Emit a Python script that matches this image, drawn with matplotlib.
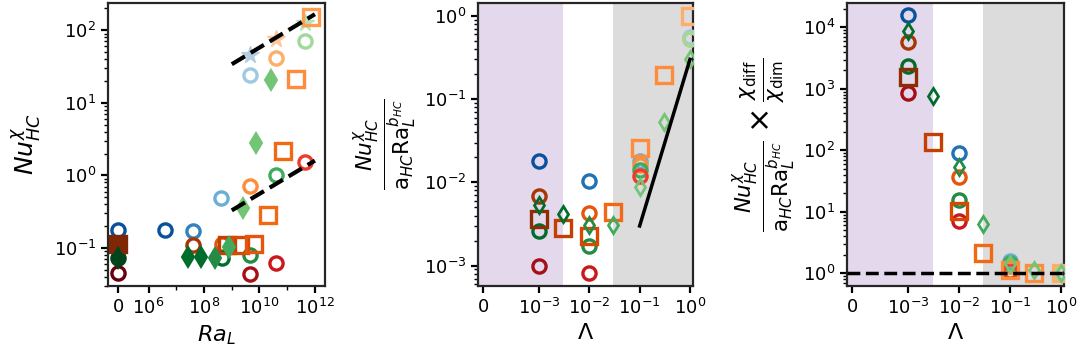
import matplotlib
matplotlib.use("Agg")
import matplotlib.pyplot as plt
import matplotlib.ticker as mticker
import numpy as np

# ---- panel (a): Nu vs Ra ----
ra_blue = [0, 4e6, 4e7, 4e8, 4.4e9]
nu_blue = [0.175, 0.175, 0.17, 0.49, 24.5]
ra_orange = [0, 4e7, 4.3e8, 4.4e9, 4.1e10]
nu_orange = [0.113, 0.111, 0.115, 0.71, 41.6]
ra_green = [0, 4.3e8, 4.4e9, 4.1e10, 4.3e11]
nu_green = [0.073, 0.072, 0.08, 1.0, 70]
ra_red = [0, 4.4e9, 4.1e10, 4.3e11]
nu_red = [0.046, 0.044, 0.063, 1.52]
ra_diam = [0, 2.6e7, 8e7, 2.4e8, 8.1e8, 2.6e9, 7.6e9, 2.7e10]
nu_diam = [0.073, 0.075, 0.075, 0.073, 0.103, 0.36, 2.78, 20.8]
ra_sq = [0, 6.5e8, 2e9, 6.6e9, 2.1e10, 7e10, 2.1e11, 7.4e11]
nu_sq = [0.113, 0.11, 0.11, 0.115, 0.288, 2.16, 21.3, 154]
ra_star = [4.4e9, 4.1e10, 4.3e11]
nu_star = [46, 76, 124]
fit_ra = [1e9, 1e12]
fit_hi = [34, 166]
fit_lo = [0.33, 1.6]

# ---- panels (b), (c): vs Lambda ----
lam_c = [1e-3, 1e-2, 1e-1, 1]
lam_ds = [1e-3, 3e-3, 1e-2, 3e-2, 1e-1, 3e-1, 1]
b_blue = [0.018, 0.0103, 0.018, 0.55]
b_orange = [0.0069, 0.0043, 0.0163, 0.53]
b_green = [0.0026, 0.0017, 0.0141, 0.53]
b_red = [0.001, 0.00082, 0.0118]
b_diam = [0.0053, 0.0042, 0.0031, 0.0031, 0.0088, 0.053, 0.30]
b_sq = [0.0036, 0.0028, 0.0023, 0.0044, 0.026, 0.197, 1.0]
fit_lam = [0.1, 1.0]
fit_b = [0.003, 0.3]

c_blue = [15800, 89, 1.6, 1.0]
c_orange = [5840, 37, 1.3, 1.0]
c_green = [2380, 15.5, 1.45, 1.0]
c_red = [865, 7.1, 1.1]
c_diam = [8800, 773, 53, 6.3, 1.4, 1.13, 1.0]
c_sq = [1540, 135, 10.3, 2.1, 1.15, 1.0, 1.0]

# colours, dark -> light
blues = ['#08519c', '#08519c', '#3182bd', '#6baed6', '#9ecae1']
oranges = ['#7f2704', '#a63603', '#e6550d', '#fd8d3c', '#fdae6b']
greens = ['#00441b', '#006d2c', '#238b45', '#41ab5d', '#a1d99b']
reds = ['#67000d', '#a50f15', '#cb181d', '#ef3b2c']
diam_cols = ['#00441b', '#006d2c', '#006d2c', '#238b45', '#41ab5d', '#74c476', '#74c476', '#74c476']
sq_cols = ['#7f2704', '#c14002', '#d94801', '#e6550d', '#f16913', '#f16913', '#fd8d3c', '#fd9d53']
star_cols = ['#b3cde3', '#fdc59a', '#b7e2b1']

lam_blues = ['#08519c', '#2171b5', '#6baed6', '#9ecae1']
lam_oranges = ['#a63603', '#e6550d', '#fd8d3c', '#fdae6b']
lam_greens = ['#006d2c', '#238b45', '#41ab5d', '#a1d99b']
lam_reds = ['#a50f15', '#cb181d', '#ef3b2c']
lam_diam = ['#006d2c', '#006d2c', '#238b45', '#41ab5d', '#74c476', '#74c476', '#74c476']
lam_sq = ['#8c2d04', '#c14002', '#d94801', '#f16913', '#fd8d3c', '#fd8d3c', '#fdae6b']

plt.rcParams['font.size'] = 13
plt.rcParams['axes.linewidth'] = 1.6
plt.rcParams['axes.edgecolor'] = '#262626'

fig = plt.figure(figsize=(10.81, 3.59), dpi=100)
ax1 = fig.add_axes([0.0999, 0.2033, 0.2007, 0.788])
ax2 = fig.add_axes([0.4422, 0.2033, 0.1989, 0.788])
ax3 = fig.add_axes([0.7835, 0.2033, 0.2007, 0.788])


def pts(ax, x, y, cols, marker, ms, mew=2.4, filled=False, z=3):
    for xi, yi, c in zip(x, y, cols):
        ax.plot([xi], [yi], linestyle='none', marker=marker, markersize=ms,
                markerfacecolor=c if filled else 'none', markeredgecolor=c,
                markeredgewidth=mew, zorder=z)


# panel 1
pts(ax1, ra_blue, nu_blue, blues, 'o', 9.5)
pts(ax1, ra_orange, nu_orange, oranges, 'o', 9.5)
pts(ax1, ra_green, nu_green, greens, 'o', 9.5)
pts(ax1, ra_red, nu_red, reds, 'o', 9.5)
pts(ax1, ra_sq[1:], nu_sq[1:], sq_cols[1:], 's', 11.5, z=4)
pts(ax1, ra_sq[:1], nu_sq[:1], sq_cols[:1], 's', 11.5, filled=True, z=4)
pts(ax1, ra_diam, nu_diam, diam_cols, 'd', 10, mew=1.5, filled=True, z=4)
pts(ax1, ra_star, nu_star, star_cols, '*', 13, mew=1, filled=True, z=3)
ax1.plot(fit_ra, fit_hi, 'k--', lw=3, zorder=5)
ax1.plot(fit_ra, fit_lo, 'k--', lw=3, zorder=5)

ax1.set_xscale('symlog', linthresh=1e6, linscale=1)
ax1.set_yscale('log')
ax1.set_xlim(-3.2e5, 2.3e12)
ax1.set_ylim(0.030, 236)
ax1.xaxis.set_major_locator(mticker.FixedLocator([0, 1e6, 1e8, 1e10, 1e12]))
ax1.xaxis.set_minor_locator(mticker.FixedLocator([1e7, 1e9, 1e11]))
ax1.set_xlabel(r'$Ra_L$', fontsize=16)
ax1.set_ylabel(r'$Nu^{\chi}_{HC}$', fontsize=18, labelpad=8)

# panels 2 and 3
for ax in (ax2, ax3):
    ax.axvspan(-1, 3e-3, color='#e4d8ec', lw=0, zorder=0)
    ax.axvspan(3e-2, 10, color='#dcdcdc', lw=0, zorder=0)

pts(ax2, lam_c, b_blue, lam_blues, 'o', 9.5)
pts(ax2, lam_c, b_orange, lam_oranges, 'o', 9.5)
pts(ax2, lam_c, b_green, lam_greens, 'o', 9.5)
pts(ax2, lam_c[:3], b_red, lam_reds, 'o', 9.5)
pts(ax2, lam_ds, b_sq, lam_sq, 's', 11.5, z=4)
pts(ax2, lam_ds, b_diam, lam_diam, 'd', 8.5, mew=2.0, z=4)
ax2.plot(fit_lam, fit_b, 'k-', lw=2.5, zorder=5)
ax2.set_ylim(5.7e-4, 1.42)
ax2.set_ylabel(r'$\frac{Nu^{\chi}_{HC}}{\mathrm{a}_{HC}\mathrm{Ra}_L^{b_{HC}}}$', fontsize=22)

pts(ax3, lam_c, c_blue, lam_blues, 'o', 9.5)
pts(ax3, lam_c, c_orange, lam_oranges, 'o', 9.5)
pts(ax3, lam_c, c_green, lam_greens, 'o', 9.5)
pts(ax3, lam_c[:3], c_red, lam_reds, 'o', 9.5)
pts(ax3, lam_ds, c_sq, lam_sq, 's', 11.5, z=4)
pts(ax3, lam_ds, c_diam, lam_diam, 'd', 8.5, mew=2.0, z=4)
ax3.axhline(1.0, color='k', ls='--', lw=2.5, zorder=5)
ax3.set_ylim(0.62, 24800)
ax3.set_ylabel(r'$\frac{Nu^{\chi}_{HC}}{\mathrm{a}_{HC}\mathrm{Ra}_L^{b_{HC}}}\times\frac{\chi_{\rm diff}}{\chi_{\rm dim}}$',
               fontsize=22)

for ax in (ax2, ax3):
    ax.set_xscale('symlog', linthresh=1e-3, linscale=1)
    ax.set_yscale('log')
    ax.set_xlim(-9e-5, 1.15)
    ax.xaxis.set_major_locator(mticker.FixedLocator([0, 1e-3, 1e-2, 1e-1, 1]))
    ax.xaxis.set_minor_locator(mticker.NullLocator())
    ax.set_xlabel(r'$\Lambda$', fontsize=16)

for ax in (ax1, ax2, ax3):
    ax.tick_params(which='major', length=5, width=1.6)
    ax.tick_params(which='minor', length=3, width=1.0)
    ax.yaxis.set_minor_locator(mticker.LogLocator(base=10, subs=np.arange(2, 10), numticks=20))
    ax.yaxis.set_minor_formatter(mticker.NullFormatter())

fig.savefig('out.png', dpi=100)
